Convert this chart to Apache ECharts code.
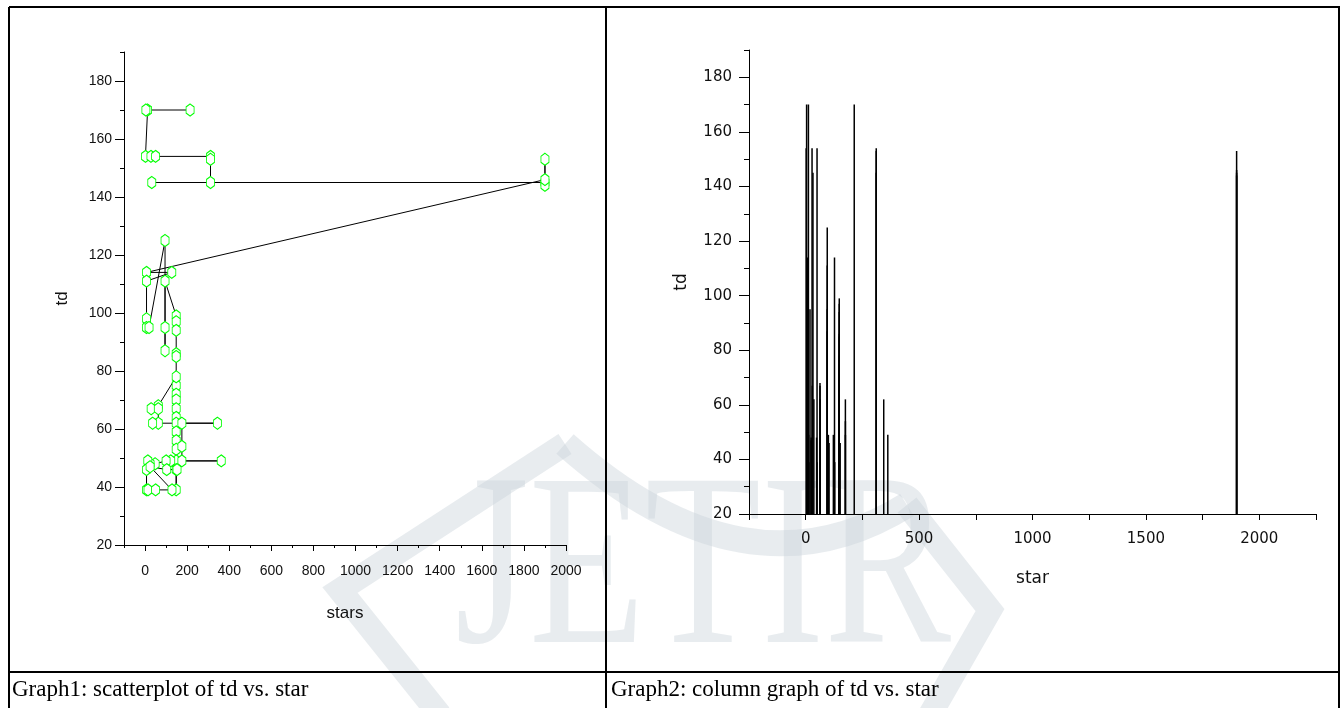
<!DOCTYPE html>
<html>
<head>
<meta charset="utf-8">
<script src="https://cdn.jsdelivr.net/npm/echarts@6/dist/echarts.min.js"></script>
<style>
  html, body { margin: 0; padding: 0; background: #fff; }
  #chart { width: 1344px; height: 708px; }
</style>
</head>
<body>
<div id="chart"></div>
<script>
const chart = echarts.init(document.getElementById("chart"));

// points in the order the scatter line joins them
const stars = [
  214, 12, 4, 2, 28, 50, 311, 311, 311, 32, 1900, 1900, 1900, 1900,
  7, 127, 7, 7, 7, 19, 95, 95, 95, 95,
  148, 148, 148, 148, 148, 148, 148, 148, 148, 148, 148, 148, 148, 148, 148, 148, 148, 148,
  63, 29, 63, 63, 36, 344, 175, 175, 175, 362,
  122, 100, 48, 24, 13, 7, 7, 14, 50, 128, 24, 103, 152
];
const td = [
  170, 170, 170, 154, 154, 154, 154, 153, 145, 145, 145, 144, 153, 146,
  114, 114, 111, 98, 95, 95, 125, 87, 95, 111,
  99, 97, 94, 86, 85, 75, 72, 70, 67, 64, 62, 59, 56, 53, 49, 46, 39, 78,
  68, 67, 67, 62, 62, 62, 62, 54, 49, 49,
  49, 49, 48, 48, 49, 46, 39, 39, 39, 39, 47, 46, 46
];

const yLabels = [20, 40, 60, 80, 100, 120, 140, 160, 180];
const yMinor = [30, 50, 70, 90, 110, 130, 150, 170, 190];
const leftXLabels = [0, 200, 400, 600, 800, 1000, 1200, 1400, 1600, 1800, 2000];
const leftXMinor = [-100, 100, 300, 500, 700, 900, 1100, 1300, 1500, 1700, 1900];
const rightXLabels = [0, 500, 1000, 1500, 2000];
const rightXTicks = [-250, 0, 250, 500, 750, 1000, 1250, 1500, 1750, 2000, 2250];
const captions = ["Graph1: scatterplot of td vs. star", "Graph2: column graph of td vs. star"];

const points = stars.map((s, i) => [s, td[i]]);
const hexagon = "path://M4,0 L8,3 L8,9 L4,12 L0,9 L0,3 Z";
const wm = "rgba(200,210,216,0.42)";

function mainAxis(grid, min, max, pos, ticks, labels, tickLen, margin, font, size, name, nameGap, nameSize) {
  return {
    type: "value", gridIndex: grid, min: min, max: max, position: pos,
    axisLine: { show: true, onZero: false, lineStyle: { color: "#000", width: 1 } },
    axisTick: { show: true, length: tickLen, customValues: ticks, lineStyle: { color: "#000" } },
    axisLabel: {
      customValues: labels, margin: margin, color: "#111", fontFamily: font, fontSize: size,
      formatter: v => String(v)
    },
    splitLine: { show: false },
    name: name, nameLocation: "middle", nameGap: nameGap,
    nameTextStyle: { color: "#111", fontFamily: font, fontSize: nameSize }
  };
}
function minorAxis(grid, min, max, pos, ticks, tickLen) {
  return {
    type: "value", gridIndex: grid, min: min, max: max, position: pos,
    axisLine: { show: false, onZero: false },
    axisTick: { show: true, length: tickLen, customValues: ticks, lineStyle: { color: "#000" } },
    axisLabel: { show: false },
    splitLine: { show: false }
  };
}

chart.setOption({
  animation: false,
  backgroundColor: "#fff",
  grid: [
    { left: 124, right: 778, top: 52, bottom: 163, outerBoundsMode: "none" },
    { left: 749, right: 28, top: 50, bottom: 194, outerBoundsMode: "none" }
  ],
  xAxis: [
    mainAxis(0, -100, 2000, "bottom", leftXLabels, leftXLabels, 6, 19, "Liberation Sans", 14, "stars", 60, 17),
    minorAxis(0, -100, 2000, "bottom", leftXMinor, 3),
    mainAxis(1, -250, 2250, "bottom", rightXTicks, rightXLabels, 6, 18, "DejaVu Sans", 15, "star", 56, 17)
  ],
  yAxis: [
    mainAxis(0, 20, 190, "left", yLabels, yLabels, 9, 12, "Liberation Sans", 14, "td", 53, 17),
    minorAxis(0, 20, 190, "left", yMinor, 4),
    mainAxis(1, 20, 190, "left", yLabels, yLabels, 10, 17, "DejaVu Sans", 15, "td", 59, 17),
    minorAxis(1, 20, 190, "left", yMinor, 5)
  ],
  series: [
    {
      type: "line", xAxisIndex: 0, yAxisIndex: 0, data: points,
      symbol: hexagon, symbolSize: [8, 12], showSymbol: true, showAllSymbol: true,
      itemStyle: { color: "#fff", borderColor: "#00ff00", borderWidth: 1 },
      lineStyle: { color: "#000", width: 1 },
      z: 5
    },
    {
      type: "bar", xAxisIndex: 2, yAxisIndex: 2, data: points,
      barWidth: 1.5, itemStyle: { color: "#000" }, z: 5
    }
  ],
  graphic: [
    // faint JETIR watermark behind everything
    { type: "text", z: -10, x: 455, y: 454, scaleY: 1.3,
      style: { text: "JETIR", fill: wm, font: '190px "Liberation Serif"' } },
    { type: "polyline", z: -10,
      shape: { points: [[565, 444], [340, 590], [440, 715]] },
      style: { stroke: wm, lineWidth: 24, fill: null } },
    { type: "bezierCurve", z: -10,
      shape: { x1: 565, y1: 444, cpx1: 746, cpy1: 605, x2: 907, y2: 505 },
      style: { stroke: wm, lineWidth: 26, fill: null } },
    { type: "polyline", z: -10,
      shape: { points: [[907, 505], [990, 610], [930, 715]] },
      style: { stroke: wm, lineWidth: 24, fill: null } },
    // table borders
    { type: "line", z: 50, shape: { x1: 9, y1: 7, x2: 1340, y2: 7 }, style: { stroke: "#000", lineWidth: 2 } },
    { type: "line", z: 50, shape: { x1: 9, y1: 7, x2: 9, y2: 708 }, style: { stroke: "#000", lineWidth: 2 } },
    { type: "line", z: 50, shape: { x1: 1339, y1: 7, x2: 1339, y2: 708 }, style: { stroke: "#000", lineWidth: 2 } },
    { type: "line", z: 50, shape: { x1: 606, y1: 7, x2: 606, y2: 708 }, style: { stroke: "#000", lineWidth: 2 } },
    { type: "line", z: 50, shape: { x1: 9, y1: 672, x2: 1340, y2: 672 }, style: { stroke: "#000", lineWidth: 2 } },
    { type: "text", z: 50, x: 12, y: 690,
      style: { text: captions[0], fill: "#000", font: '23px "Liberation Serif"', verticalAlign: "middle" } },
    { type: "text", z: 50, x: 611, y: 690,
      style: { text: captions[1], fill: "#000", font: '23px "Liberation Serif"', verticalAlign: "middle" } }
  ]
});
</script>
</body>
</html>
